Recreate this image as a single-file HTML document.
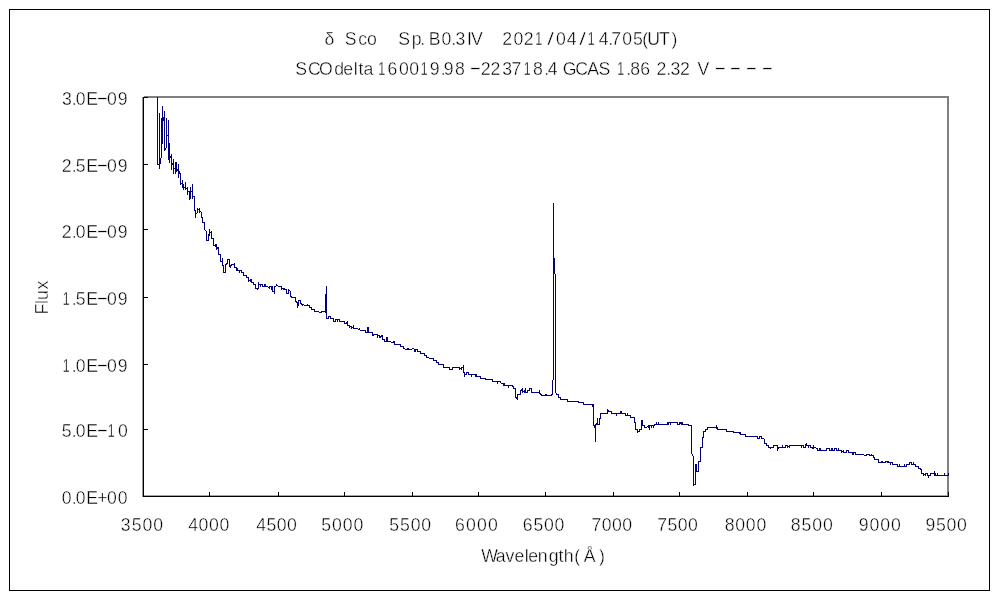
<!DOCTYPE html>
<html lang="ja">
<head>
<meta charset="utf-8">
<title>δ Sco spectrum</title>
<style>
html,body{margin:0;padding:0;background:#fff;overflow:hidden}
svg{display:block}
rect{shape-rendering:crispEdges}
.g{fill:#808080}
.c{fill:none;stroke:#000080;stroke-width:1;shape-rendering:crispEdges}
.t text{font-family:"Liberation Sans","Noto Sans CJK JP",sans-serif;font-size:19px;fill:#000;stroke:#fff;stroke-width:0.4;white-space:pre}
</style>
</head>
<body>
<svg width="1000" height="600" viewBox="0 0 1000 600">
<rect x="0" y="0" width="1000" height="600" fill="#fff"/>
<rect x="9.5" y="9.5" width="980" height="581" fill="#fff" stroke="#000" stroke-width="1"/>
<rect class="g" x="144" y="96" width="805" height="1"/>
<rect class="g" x="143" y="97" width="806" height="1"/>
<rect class="g" x="142" y="97" width="1" height="400" opacity="0.8"/>
<rect class="g" x="142" y="495" width="807" height="1" opacity="0.7"/>
<rect class="g" x="947" y="96" width="2" height="401"/>
<path class="c" d="M157.5 97v68M159.5 113v56M160.5 158v6M161.5 118v40M162.5 106v38M163.5 117v4M164.5 111v40M165.5 148v2M166.5 118v30M168.5 120v40M169.5 143v20M170.5 156v2M171.5 154v16M172.5 163v2M173.5 159v15M175.5 162v12M176.5 162v10M177.5 169v2M178.5 164v14M179.5 171v3M180.5 173v12M182.5 180v8M183.5 184v6M185.5 182v8M187.5 187v8M189.5 191v9M190.5 187v12M192.5 184v15M194.5 196v15M195.5 210v8M197.5 208v5M199.5 208v5M201.5 212v6M202.5 217v6M204.5 222v8M206.5 231v10M208.5 234v7M209.5 229v7M211.5 231v8M213.5 238v8M215.5 244v3M216.5 244v6M217.5 247v2M218.5 247v8M220.5 254v8M222.5 258v8M223.5 265v8M225.5 264v9M226.5 263v2M227.5 259v5M229.5 259v8M230.5 265v3M231.5 264v2M234.5 263v5M236.5 267v4M237.5 268v3M239.5 270v3M241.5 270v3M243.5 272v4M246.5 275v3M248.5 277v5M250.5 279v3M251.5 279v4M253.5 282v3M255.5 284v5M257.5 288v2M258.5 282v7M260.5 284v3M262.5 284v3M264.5 284v3M265.5 284v3M269.5 286v3M271.5 286v4M272.5 286v6M274.5 286v8M276.5 284v2M281.5 286v4M283.5 288v2M284.5 288v2M286.5 289v5M288.5 289v5M290.5 291v6M291.5 296v2M295.5 297v5M296.5 301v2M297.5 302v6M298.5 300v6M300.5 300v4M301.5 303v2M302.5 304v2M307.5 304v2M309.5 305v3M311.5 307v3M314.5 309v3M321.5 311v2M325.5 294v19M326.5 286v33M328.5 316v3M330.5 316v3M333.5 318v4M335.5 319v3M337.5 319v3M339.5 319v3M344.5 321v3M346.5 322v2M347.5 321v5M349.5 325v3M351.5 326v3M353.5 325v4M359.5 328v2M365.5 330v3M367.5 327v6M368.5 327v6M372.5 332v4M373.5 334v2M377.5 334v4M379.5 335v3M380.5 336v2M381.5 335v2M382.5 335v5M384.5 339v3M386.5 337v5M387.5 337v5M393.5 341v2M394.5 341v4M400.5 344v3M403.5 346v3M407.5 348v2M408.5 348v2M414.5 349v3M415.5 349v3M417.5 349v3M420.5 351v3M424.5 353v3M426.5 355v3M433.5 358v3M436.5 360v3M438.5 362v3M443.5 364v4M449.5 367v3M452.5 367v3M459.5 367v3M461.5 367v3M463.5 365v8M464.5 372v5M466.5 372v3M468.5 372v3M471.5 374v3M475.5 374v3M476.5 374v3M480.5 376v3M485.5 378v2M492.5 379v3M497.5 381v3M500.5 381v2M503.5 383v3M504.5 383v3M508.5 385v3M512.5 385v2M513.5 386v3M515.5 388v10M516.5 397v2M517.5 394v6M520.5 390v5M521.5 389v2M522.5 388v5M524.5 390v3M525.5 388v5M527.5 390v3M529.5 388v3M531.5 388v5M539.5 390v4M540.5 393v2M541.5 394v2M545.5 394v2M546.5 394v2M551.5 394v2M552.5 380v15M553.5 203v177M554.5 258v16M555.5 274v119M556.5 393v2M558.5 394v4M560.5 397v3M567.5 399v3M578.5 401v2M583.5 402v3M592.5 404v3M593.5 404v22M594.5 425v3M595.5 424v18M596.5 423v2M597.5 418v7M599.5 418v7M600.5 413v6M607.5 409v5M608.5 410v2M611.5 411v3M616.5 413v3M620.5 411v3M621.5 411v3M625.5 413v3M627.5 413v3M630.5 415v3M634.5 417v6M635.5 422v8M637.5 429v4M639.5 429v3M641.5 420v10M642.5 420v6M644.5 425v3M648.5 425v3M649.5 425v5M651.5 425v3M653.5 425v3M654.5 424v2M656.5 422v3M658.5 422v3M667.5 422v3M668.5 422v3M670.5 422v3M677.5 422v3M679.5 422v3M680.5 422v2M681.5 422v3M682.5 422v3M688.5 424v2M691.5 425v29M692.5 454v2M693.5 456v30M695.5 464v21M696.5 464v8M698.5 461v11M700.5 447v15M702.5 437v11M703.5 431v7M705.5 429v3M707.5 427v3M716.5 425v4M717.5 427v3M726.5 429v3M733.5 431v2M739.5 432v2M740.5 432v3M745.5 434v3M757.5 436v3M759.5 436v3M761.5 436v3M764.5 439v5M766.5 443v3M768.5 445v3M770.5 447v2M773.5 445v3M777.5 445v6M778.5 447v2M782.5 445v3M785.5 445v3M787.5 445v3M789.5 445v3M801.5 445v3M803.5 445v3M805.5 444v4M806.5 443v3M808.5 445v3M810.5 445v3M812.5 447v2M813.5 445v4M817.5 448v3M819.5 448v3M820.5 448v3M826.5 448v3M829.5 448v3M831.5 448v3M832.5 448v3M834.5 448v3M836.5 448v3M838.5 448v3M841.5 450v3M843.5 450v3M846.5 450v3M848.5 450v3M852.5 452v3M853.5 452v3M855.5 452v3M866.5 454v2M869.5 454v2M871.5 454v2M873.5 455v3M874.5 457v3M878.5 459v4M881.5 461v2M882.5 461v2M885.5 461v2M887.5 461v2M888.5 461v2M890.5 462v3M892.5 462v3M897.5 464v3M899.5 464v3M904.5 464v3M906.5 464v3M909.5 462v3M911.5 462v3M913.5 462v3M915.5 464v3M918.5 466v3M920.5 468v2M921.5 469v5M923.5 473v3M925.5 473v3M927.5 473v3M928.5 475v3M930.5 473v3M934.5 471v5M935.5 473v3M937.5 473v3M944.5 473v3M948.5 473v3M167 135.5h1M158 164.5h1M174 168.5h1M181 183.5h1M184 187.5h1M186 188.5h1M188 191.5h1M191 191.5h1M193 196.5h1M198 209.5h1M200 211.5h1M196 213.5h1M203 222.5h1M205 230.5h1M210 232.5h1M212 238.5h1M207 240.5h1M214 245.5h1M219 254.5h1M228 259.5h1M221 261.5h1M232 264.5h2M235 267.5h1M238 270.5h1M240 270.5h1M224 272.5h1M242 272.5h1M244 275.5h2M247 277.5h1M249 280.5h1M252 282.5h1M254 284.5h1M259 284.5h1M261 284.5h1M277 285.5h1M263 286.5h1M266 286.5h2M270 286.5h1M275 286.5h1M278 286.5h3M268 287.5h1M256 288.5h1M282 288.5h1M285 289.5h1M289 290.5h1M273 291.5h1M287 293.5h1M292 297.5h3M299 300.5h1M303 304.5h1M304 305.5h3M308 305.5h1M310 307.5h1M312 309.5h2M315 311.5h4M322 311.5h3M319 312.5h2M329 316.5h1M327 318.5h1M331 318.5h2M336 319.5h1M338 319.5h1M334 321.5h1M340 321.5h4M345 323.5h1M348 325.5h1M350 326.5h1M352 327.5h1M354 328.5h4M358 329.5h1M360 330.5h5M366 332.5h1M369 332.5h3M374 334.5h3M378 335.5h1M383 339.5h1M385 341.5h1M388 341.5h3M391 342.5h2M395 344.5h5M401 346.5h2M404 348.5h1M412 348.5h2M405 349.5h2M409 349.5h3M416 349.5h1M418 351.5h2M421 353.5h3M425 355.5h1M427 357.5h2M429 358.5h4M434 360.5h2M437 362.5h1M439 364.5h4M444 367.5h5M453 367.5h6M462 367.5h1M460 368.5h1M450 369.5h2M467 372.5h1M465 374.5h1M469 374.5h2M472 374.5h3M477 376.5h3M481 378.5h4M486 379.5h6M493 381.5h4M498 381.5h2M501 383.5h2M505 385.5h3M509 385.5h3M514 388.5h1M530 388.5h1M528 390.5h1M523 391.5h1M526 392.5h1M532 392.5h7M518 394.5h2M557 394.5h1M542 395.5h3M547 395.5h4M559 397.5h1M561 399.5h6M568 401.5h10M579 402.5h4M584 404.5h8M609 411.5h2M601 413.5h6M612 413.5h4M617 413.5h3M622 413.5h3M626 415.5h1M628 415.5h2M631 417.5h3M669 422.5h1M671 422.5h6M598 424.5h1M655 424.5h1M657 424.5h1M659 424.5h8M678 424.5h1M683 424.5h5M643 425.5h1M650 425.5h1M652 425.5h1M689 425.5h2M647 426.5h1M645 427.5h2M708 427.5h8M636 429.5h1M640 429.5h1M706 429.5h1M718 429.5h8M638 431.5h1M704 431.5h1M727 431.5h6M734 432.5h5M741 434.5h4M746 436.5h11M760 436.5h1M758 438.5h1M762 438.5h2M765 443.5h1M767 445.5h1M774 445.5h3M786 445.5h1M790 445.5h11M802 445.5h1M807 445.5h1M809 445.5h1M788 446.5h1M701 447.5h1M769 447.5h1M771 447.5h2M779 447.5h3M783 447.5h2M804 447.5h1M811 447.5h1M814 447.5h2M816 448.5h1M827 448.5h2M835 448.5h1M818 450.5h1M821 450.5h5M830 450.5h1M833 450.5h1M837 450.5h1M839 450.5h2M847 450.5h1M842 451.5h1M844 452.5h2M849 452.5h3M854 452.5h1M856 454.5h8M867 454.5h2M864 455.5h2M870 455.5h1M872 455.5h1M875 459.5h3M699 461.5h1M886 461.5h1M879 462.5h2M883 462.5h2M889 462.5h1M891 462.5h1M910 462.5h1M893 464.5h4M907 464.5h2M912 464.5h1M914 464.5h1M898 466.5h1M900 466.5h4M905 466.5h1M916 466.5h2M919 468.5h1M697 471.5h1M922 473.5h1M926 473.5h1M931 473.5h3M924 474.5h1M929 475.5h1M936 475.5h1M938 475.5h6M945 475.5h3M694 484.5h1"/>
<rect x="143" y="97" width="1" height="400"/>
<rect x="143" y="496" width="806" height="1"/>
<rect x="143" y="97" width="5" height="1"/>
<rect x="143" y="164" width="5" height="1"/>
<rect x="143" y="229" width="5" height="1"/>
<rect x="143" y="297" width="5" height="1"/>
<rect x="143" y="364" width="5" height="1"/>
<rect x="143" y="429" width="5" height="1"/>
<rect x="143" y="496" width="5" height="1"/>
<rect x="143" y="492" width="1" height="5"/>
<rect x="209" y="492" width="1" height="5"/>
<rect x="278" y="492" width="1" height="5"/>
<rect x="344" y="492" width="1" height="5"/>
<rect x="412" y="492" width="1" height="5"/>
<rect x="478" y="492" width="1" height="5"/>
<rect x="545" y="492" width="1" height="5"/>
<rect x="613" y="492" width="1" height="5"/>
<rect x="679" y="492" width="1" height="5"/>
<rect x="747" y="492" width="1" height="5"/>
<rect x="813" y="492" width="1" height="5"/>
<rect x="881" y="492" width="1" height="5"/>
<rect x="948" y="492" width="1" height="5"/>
<g class="t"><text transform="scale(0.93,1)"><tspan x="349.02" y="45">δ</tspan> <tspan x="370.82 385.15 394.72" y="45">Sco</tspan> <tspan x="428.35 442.62 451.93" y="45">Sp.</tspan> <tspan x="461.13 474.82 485.26 489.66 502.2 506.57" y="45">B0.3IV</tspan> <tspan x="540.15 552.24 563.26" y="45">202</tspan><tspan x="575.47" y="45" textLength="7.4" lengthAdjust="spacingAndGlyphs">1</tspan><tspan x="588.37" y="45" textLength="7.13" lengthAdjust="spacingAndGlyphs">/</tspan><tspan x="597.94 609.29" y="45">04</tspan><tspan x="622.78" y="45" textLength="7.13" lengthAdjust="spacingAndGlyphs">/</tspan><tspan x="631.93" y="45" textLength="7.4" lengthAdjust="spacingAndGlyphs">1</tspan><tspan x="643.7 654.08 657.34 669.18 680.76 690.66 696.1 708.72 722.1" y="45">4.705(UT)</tspan></text>
<text transform="scale(0.93,1)"><tspan x="317.59 331.19 343.15 359.45 369.2 380.41 385.46 390.82" y="75">SCOdelta</tspan> <tspan x="406.66" y="75" textLength="7.4" lengthAdjust="spacingAndGlyphs">1</tspan><tspan x="416.69 429.13 440.15" y="75">600</tspan><tspan x="452.36" y="75" textLength="7.4" lengthAdjust="spacingAndGlyphs">1</tspan><tspan x="462.19 473.97 477.25 489.34" y="75">9.98</tspan> <tspan x="504.69" y="74" textLength="13.2" lengthAdjust="spacingAndGlyphs">-</tspan><tspan x="517.03 527.51 539.93 550.08" y="75">2237</tspan><tspan x="563.11" y="75" textLength="7.4" lengthAdjust="spacingAndGlyphs">1</tspan><tspan x="573.21 585.26 588.86" y="75">8.4</tspan> <tspan x="605.21 618.56 631.57 643.67" y="75">GCAS</tspan> <tspan x="663.65" y="75" textLength="7.4" lengthAdjust="spacingAndGlyphs">1</tspan><tspan x="673.44 677.78 688.47" y="75">.86</tspan> <tspan x="706.01 716.45 720.85 731.28" y="75">2.32</tspan> <tspan x="750.12" y="75">V</tspan> <tspan x="767.62" y="74" textLength="13.79" lengthAdjust="spacingAndGlyphs">-</tspan> <tspan x="784.26" y="74" textLength="13.2" lengthAdjust="spacingAndGlyphs">-</tspan> <tspan x="801.46" y="74" textLength="13.2" lengthAdjust="spacingAndGlyphs">-</tspan> <tspan x="818.67" y="74" textLength="13.2" lengthAdjust="spacingAndGlyphs">-</tspan></text>
<text transform="scale(0.93,1)"><tspan x="517.37 533.02 543.64 553.34 564.28 568.12 578.3 590.09 600.51 606.23 617.54 627.8 644.14" y="562.3">Wavelength(Å)</tspan></text>
<text transform="rotate(-90) scale(0.93,1)"><tspan x="-338.19 -326.85 -322.47 -311.21" y="48">Flux</tspan></text>
<text transform="scale(0.93,1)"><tspan x="66.55 77.2 81.54 92.75" y="105">3.0E</tspan><tspan x="103.62" y="104" textLength="13.2" lengthAdjust="spacingAndGlyphs">-</tspan><tspan x="115.15 126.71" y="105">09</tspan></text>
<text transform="scale(0.93,1)"><tspan x="66.49 77.2 81.56 92.75" y="172">2.5E</tspan><tspan x="103.62" y="171" textLength="13.2" lengthAdjust="spacingAndGlyphs">-</tspan><tspan x="115.15 126.71" y="172">09</tspan></text>
<text transform="scale(0.93,1)"><tspan x="66.49 77.2 81.54 92.75" y="238">2.0E</tspan><tspan x="103.62" y="237" textLength="13.2" lengthAdjust="spacingAndGlyphs">-</tspan><tspan x="115.15 126.71" y="238">09</tspan></text>
<text transform="scale(0.93,1)"><tspan x="67.41" y="305" textLength="7.4" lengthAdjust="spacingAndGlyphs">1</tspan><tspan x="77.2 81.56 92.75" y="305">.5E</tspan><tspan x="103.62" y="304" textLength="13.2" lengthAdjust="spacingAndGlyphs">-</tspan><tspan x="115.15 126.71" y="305">09</tspan></text>
<text transform="scale(0.93,1)"><tspan x="67.41" y="372" textLength="7.4" lengthAdjust="spacingAndGlyphs">1</tspan><tspan x="77.2 81.54 92.75" y="372">.0E</tspan><tspan x="103.62" y="371" textLength="13.2" lengthAdjust="spacingAndGlyphs">-</tspan><tspan x="115.15 126.71" y="372">09</tspan></text>
<text transform="scale(0.93,1)"><tspan x="66.51 77.2 81.54 92.75" y="437">5.0E</tspan><tspan x="103.62" y="436" textLength="13.2" lengthAdjust="spacingAndGlyphs">-</tspan><tspan x="115.8" y="437" textLength="7.4" lengthAdjust="spacingAndGlyphs">1</tspan><tspan x="126.97" y="437">0</tspan></text>
<text transform="scale(0.93,1)"><tspan x="66.49 77.2 81.54 92.75 104.67 115.15 126.71" y="504">0.0E+00</tspan></text>
<text transform="scale(0.93,1)"><tspan x="129.93 141.58 153.25 164.93" y="531">3500</tspan></text>
<text transform="scale(0.93,1)"><tspan x="202.41 213.53 224.72 235.9" y="531">4000</tspan></text>
<text transform="scale(0.93,1)"><tspan x="275.53 286.53 297.55 308.59" y="531">4500</tspan></text>
<text transform="scale(0.93,1)"><tspan x="345.38 356.9 368.44 379.99" y="531">5000</tspan></text>
<text transform="scale(0.93,1)"><tspan x="418.5 430.04 441.56 453.1" y="531">5500</tspan></text>
<text transform="scale(0.93,1)"><tspan x="489.38 501.2 512.96 524.72" y="531">6000</tspan></text>
<text transform="scale(0.93,1)"><tspan x="562.07 573.55 584.93 596.33" y="531">6500</tspan></text>
<text transform="scale(0.93,1)"><tspan x="636.11 647.15 658.19 669.23" y="531">7000</tspan></text>
<text transform="scale(0.93,1)"><tspan x="706.64 717.71 728.73 739.77" y="531">7500</tspan></text>
<text transform="scale(0.93,1)"><tspan x="779.34 790.67 801.99 813.32" y="531">8000</tspan></text>
<text transform="scale(0.93,1)"><tspan x="850.31 861.87 873.39 884.93" y="531">8500</tspan></text>
<text transform="scale(0.93,1)"><tspan x="923.43 934.97 946.51 958.05" y="531">9000</tspan></text>
<text transform="scale(0.93,1)"><tspan x="995.26 1006.53 1017.76 1029.02" y="531">9500</tspan></text></g>
</svg>
</body>
</html>
